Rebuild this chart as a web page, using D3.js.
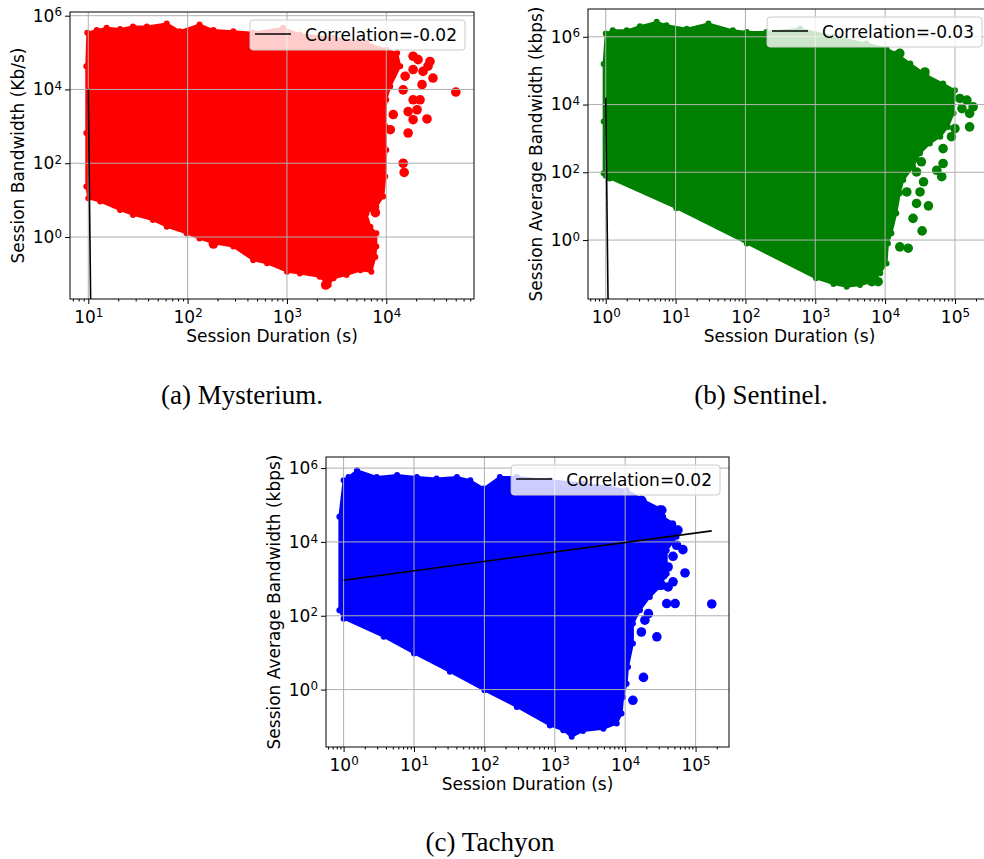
<!DOCTYPE html>
<html>
<head>
<meta charset="utf-8">
<script src="https://cdn.jsdelivr.net/npm/d3@7"></script>
<style>
  body { margin: 0; background: #fff; }
  svg text { font-family: "DejaVu Sans", sans-serif; fill: #000; }
  .caption { font-family: "Liberation Serif", serif; font-size: 27px; }
</style>
</head>
<body>
<svg id="fig" width="984" height="859"></svg>
<script>
// All values as log10 exponents: [log10(duration s), log10(bandwidth)]

// ---- (a) Mysterium ----
const mysteriumCloud = [
  [0.99,5.54],[1.085,5.61],[1.185,5.67],[1.32,5.64],[1.45,5.71],[1.59,5.71],[1.79,5.79],[1.92,5.58],
  [2.12,5.76],[2.26,5.61],[2.46,5.58],[2.66,5.54],[2.96,5.67],[3.13,5.49],[3.47,5.40],[3.80,5.26],
  [4.00,5.08],[4.11,4.99],[4.14,4.63],[4.04,4.08],[4.00,3.72],[3.99,3.00],[4.00,2.36],[3.99,1.64],
  [3.97,1.10],[3.90,0.82],[3.80,0.64],[3.84,0.28],[3.90,0.10],[3.90,-0.26],[3.89,-0.54],[3.85,-0.94],
  [3.74,-0.90],[3.60,-1.03],[3.47,-1.12],[3.42,-1.30],[3.33,-1.08],[3.13,-0.99],[3.00,-0.94],[2.80,-0.71],
  [2.66,-0.63],[2.46,-0.26],[2.26,-0.17],[2.12,-0.04],[1.99,0.10],[1.79,0.28],[1.65,0.46],[1.45,0.60],
  [1.32,0.73],[1.12,0.96],[1.00,1.05],[0.98,1.37],[0.98,2.82],[0.98,4.63]
];
const mysteriumOutliers = [
  [4.27,4.90],[4.32,4.81],[4.44,4.76],[4.42,4.63],[4.37,4.49],[4.47,4.31],[4.36,4.13],[4.27,4.54],
  [4.19,4.36],[4.17,3.99],[4.27,3.72],[4.34,3.72],[4.31,3.45],[4.22,3.40],[4.27,3.18],[4.41,3.20],
  [4.22,2.82],[4.04,2.91],[4.07,3.32],[4.70,3.93],[4.17,2.00],[4.18,1.75],[3.89,0.66],[3.82,-0.71],
  [2.26,-0.19],[3.39,-1.30]
];
const mysteriumFit = [[1.0,4.0],[1.024,-1.8]];
const mysteriumCorr = 'Correlation=-0.02';

// ---- (b) Sentinel ----
const sentinelCloud = [
  [0.0,6.10],[-0.03,5.2],[-0.03,3.5],[-0.03,1.97],[0.0,1.90],[0.057,1.82],[1.01,0.94],[2.02,-0.10],
  [3.01,-1.13],[3.26,-1.30],[3.45,-1.38],[3.64,-1.33],[3.83,-1.23],[3.93,-0.98],[4.02,-0.69],[4.04,-0.10],
  [4.09,0.20],[4.16,0.79],[4.21,1.38],[4.26,1.77],[4.40,2.16],[4.50,2.56],[4.64,2.85],[4.79,3.05],
  [4.90,3.34],[4.98,3.74],[5.00,4.42],[4.83,4.62],[4.59,4.87],[4.36,5.21],[4.16,5.51],[4.02,5.65],
  [3.73,5.80],[3.26,6.00],[2.78,6.24],[2.30,6.14],[2.02,6.14],[1.82,6.19],[1.47,6.39],[1.16,6.24],
  [0.87,6.34],[0.73,6.44],[0.49,6.31],[0.30,6.19],[0.10,6.19]
];
const sentinelOutliers = [
  [4.21,5.51],[4.57,4.96],[5.07,4.18],[5.17,4.13],[5.26,3.93],[5.21,3.74],[5.10,3.88],[5.21,3.34],
  [5.00,3.29],[4.95,3.05],[4.83,2.70],[4.83,2.26],[4.74,2.06],[4.81,1.87],[4.52,2.31],[4.45,2.01],
  [4.55,1.72],[4.31,1.42],[4.50,1.42],[4.45,1.08],[4.62,1.01],[4.40,0.64],[4.53,0.27],[4.33,-0.24],
  [4.21,-0.20],[3.90,-1.23],[3.81,-1.23]
];
const sentinelFit = [[0.0,4.20],[0.033,-1.8]];
const sentinelCorr = 'Correlation=-0.03';

// ---- (c) Tachyon ----
const tachyonCloud = [
  [0.0,5.67],[-0.06,4.68],[-0.06,2.15],[0.0,1.92],[0.57,1.43],[1.0,0.98],[1.51,0.48],[2.0,-0.02],
  [2.46,-0.47],[2.93,-0.97],[3.12,-1.10],[3.24,-1.28],[3.40,-1.12],[3.69,-1.06],[3.88,-0.92],[3.95,-0.65],
  [3.97,-0.20],[4.02,0.16],[4.04,0.61],[4.11,1.25],[4.11,1.79],[4.21,2.15],[4.35,2.51],[4.49,2.78],
  [4.59,3.14],[4.59,3.77],[4.73,4.14],[4.68,4.50],[4.54,4.68],[4.49,4.91],[4.26,5.13],[4.02,5.40],
  [3.78,5.49],[3.40,5.58],[2.93,5.67],[2.46,5.76],[2.22,5.76],[1.99,5.45],[1.80,5.67],[1.61,5.76],
  [1.32,5.72],[1.04,5.76],[0.76,5.81],[0.47,5.76],[0.19,5.94],[0.07,5.76]
];
const tachyonOutliers = [
  [4.23,5.13],[4.28,4.81],[4.52,4.86],[4.66,4.45],[4.75,4.32],[4.73,3.91],[4.82,3.79],[4.68,3.61],
  [4.85,3.16],[4.61,3.32],[4.54,3.10],[4.68,2.92],[4.61,2.78],[4.52,2.83],[4.59,2.33],[4.71,2.33],
  [4.33,2.06],[4.28,1.88],[4.23,1.56],[4.45,1.43],[4.26,0.33],[4.11,-0.29],[5.23,2.32]
];
const tachyonFit = [[0.0,2.96],[5.23,4.30]];
const tachyonCorr = 'Correlation=0.02';

const xLabel = 'Session Duration (s)';
const pow10 = p => [10 ** p[0], 10 ** p[1]];

// panel layout (pixel boxes) + log10 axis extents
const panels = [
  { key: 'a', box: [70, 12, 474, 299], xExt: [0.816, 4.883], yExt: [-1.68, 6.1], xMajor: [1, 2, 3, 4],
    color: '#ff0000', cloud: mysteriumCloud, dots: mysteriumOutliers, fit: mysteriumFit, corr: mysteriumCorr,
    yLabel: 'Session Bandwidth (Kb/s)', caption: '(a) Mysterium.', capX: 242, capY: 404 },
  { key: 'b', box: [588, 9, 991, 299], xExt: [-0.254, 5.516], yExt: [-1.74, 6.82], xMajor: [0, 1, 2, 3, 4, 5],
    color: '#008000', cloud: sentinelCloud, dots: sentinelOutliers, fit: sentinelFit, corr: sentinelCorr,
    yLabel: 'Session Average Bandwidth (kbps)', caption: '(b) Sentinel.', capX: 761, capY: 404 },
  { key: 'c', box: [326, 457, 729, 747], xExt: [-0.25, 5.475], yExt: [-1.555, 6.3], xMajor: [0, 1, 2, 3, 4, 5],
    color: '#0000ff', cloud: tachyonCloud, dots: tachyonOutliers, fit: tachyonFit, corr: tachyonCorr,
    yLabel: 'Session Average Bandwidth (kbps)', caption: '(c) Tachyon', capX: 490, capY: 851 }
];
const yMajor = [0, 2, 4, 6];
const fs = '17px';

const svg = d3.select('#fig');

function supLabel(sel, exps) {
  sel.each(function (d, i) {
    const t = d3.select(this).text('10');
    t.append('tspan').attr('dy', '-0.45em').style('font-size', '0.7em').text(exps[i]);
  });
}

panels.forEach(p => {
  const [x0, y0, x1, y1] = p.box;
  const x = d3.scaleLog().domain(p.xExt.map(e => 10 ** e)).range([x0, x1]);
  const y = d3.scaleLog().domain(p.yExt.map(e => 10 ** e)).range([y1, y0]);

  const clipId = 'clip-' + p.key;
  svg.append('clipPath').attr('id', clipId)
    .append('rect').attr('x', x0).attr('y', y0).attr('width', x1 - x0).attr('height', y1 - y0);

  const g = svg.append('g').attr('clip-path', 'url(#' + clipId + ')');

  // dense cloud: filled hull (edge) + small bumps on its vertices
  const cloud = p.cloud.map(pow10);
  const hull = d3.line().x(d => x(d[0])).y(d => y(d[1])).curve(d3.curveLinearClosed);
  g.append('path').attr('d', hull(cloud))
    .attr('fill', p.color).attr('stroke', p.color)
    .attr('stroke-width', 2).attr('stroke-linejoin', 'round');
  g.selectAll('circle.edge').data(cloud).enter()
    .append('circle').attr('class', 'edge')
    .attr('cx', d => x(d[0])).attr('cy', d => y(d[1])).attr('r', 3)
    .attr('fill', p.color);
  // isolated sessions
  g.selectAll('circle.dot').data(p.dots.map(pow10)).enter()
    .append('circle').attr('class', 'dot')
    .attr('cx', d => x(d[0])).attr('cy', d => y(d[1])).attr('r', 4.8)
    .attr('fill', p.color);

  // grid (above the scatter, like matplotlib)
  p.xMajor.forEach(e => {
    g.append('line').attr('x1', x(10 ** e)).attr('x2', x(10 ** e)).attr('y1', y0).attr('y2', y1)
      .attr('stroke', '#b0b0b0').attr('stroke-width', 1);
  });
  yMajor.forEach(e => {
    g.append('line').attr('y1', y(10 ** e)).attr('y2', y(10 ** e)).attr('x1', x0).attr('x2', x1)
      .attr('stroke', '#b0b0b0').attr('stroke-width', 1);
  });

  // fit line
  const fit = p.fit.map(pow10);
  g.append('path').attr('d', d3.line().x(d => x(d[0])).y(d => y(d[1]))(fit))
    .attr('fill', 'none').attr('stroke', '#000').attr('stroke-width', 1.6);

  // axes
  const xMinor = [];
  for (let e = Math.floor(p.xExt[0]); e <= Math.ceil(p.xExt[1]); e++) {
    for (let m = 2; m <= 9; m++) {
      const v = m * 10 ** e;
      if (Math.log10(v) >= p.xExt[0] && Math.log10(v) <= p.xExt[1]) xMinor.push(v);
    }
  }
  svg.append('g').attr('transform', 'translate(0,' + y1 + ')')
    .call(d3.axisBottom(x).tickValues(xMinor).tickSize(2.5).tickFormat(''))
    .call(a => a.select('.domain').remove());
  const xa = svg.append('g').attr('transform', 'translate(0,' + y1 + ')')
    .call(d3.axisBottom(x).tickValues(p.xMajor.map(e => 10 ** e)).tickSize(5).tickPadding(6.5))
    .call(a => a.select('.domain').remove());
  xa.selectAll('.tick text').style('font-size', fs).call(supLabel, p.xMajor);

  const ya = svg.append('g').attr('transform', 'translate(' + x0 + ',0)')
    .call(d3.axisLeft(y).tickValues(yMajor.map(e => 10 ** e)).tickSize(5).tickPadding(3))
    .call(a => a.select('.domain').remove());
  ya.selectAll('.tick text').style('font-size', fs).call(supLabel, yMajor);

  svg.append('rect').attr('x', x0).attr('y', y0).attr('width', x1 - x0).attr('height', y1 - y0)
    .attr('fill', 'none').attr('stroke', '#000').attr('stroke-width', 1);

  // axis labels
  svg.append('text').attr('x', (x0 + x1) / 2).attr('y', y1 + 43)
    .attr('text-anchor', 'middle').style('font-size', fs).text(xLabel);
  svg.append('text')
    .attr('transform', 'translate(' + (x0 - 46) + ',' + (y0 + y1) / 2 + ') rotate(-90)')
    .attr('text-anchor', 'middle').style('font-size', fs).text(p.yLabel);

  // legend
  const lg = svg.append('g');
  const box = lg.append('rect').attr('y', y0 + 8).attr('height', 30).attr('rx', 3)
    .attr('fill', '#fff').attr('fill-opacity', 0.8).attr('stroke', '#cccccc').attr('stroke-width', 1);
  const txt = lg.append('text').attr('y', y0 + 29).style('font-size', fs).text(p.corr);
  const w = 5 + 36 + 14 + txt.node().getComputedTextLength() + 8;
  const bx = x1 - 9 - w;
  box.attr('x', bx).attr('width', w);
  txt.attr('x', bx + 55);
  lg.append('line').attr('x1', bx + 5).attr('x2', bx + 41).attr('y1', y0 + 22).attr('y2', y0 + 22)
    .attr('stroke', '#000').attr('stroke-width', 1.6);

  // caption
  svg.append('text').attr('class', 'caption').attr('x', p.capX).attr('y', p.capY)
    .attr('text-anchor', 'middle').text(p.caption);
});
</script>
</body>
</html>
